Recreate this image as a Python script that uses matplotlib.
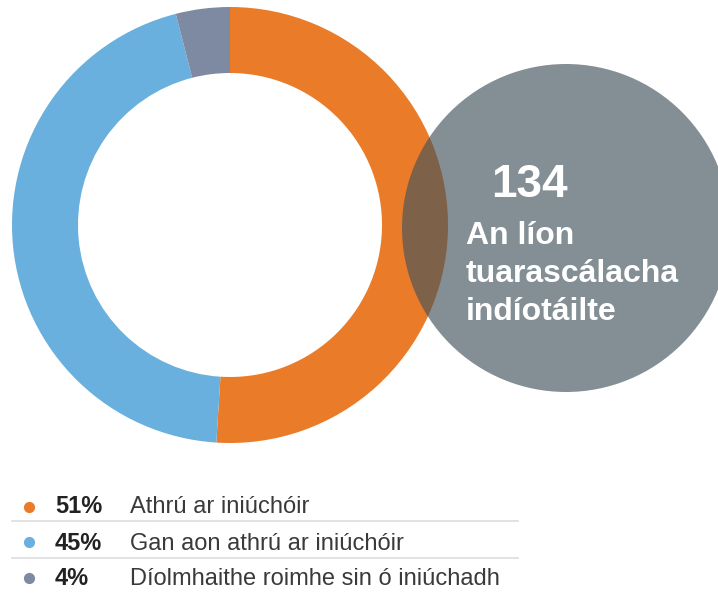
import matplotlib
matplotlib.use("Agg")
import matplotlib.pyplot as plt
from matplotlib.patches import Circle

plt.rcParams["font.family"] = ["Liberation Sans", "DejaVu Sans"]

# data
labels = ["Athrú ar iniúchóir", "Gan aon athrú ar iniúchóir", "Díolmhaithe roimhe sin ó iniúchadh"]
shares = [51, 45, 4]
colors = ["#EA7B28", "#6AB0DE", "#7E8AA2"]
total_reports = 134
caption_lines = ["An líon", "tuarascálacha", "indíotáilte"]

W, H = 718, 594
fig = plt.figure(figsize=(W / 100, H / 100), dpi=100)
ax = fig.add_axes([0, 0, 1, 1])


def Y(y):
    # pixel row from top -> data y
    return H - y


ax.pie(shares, colors=colors, startangle=90, counterclock=False,
       center=(230, Y(225)), radius=218,
       wedgeprops=dict(width=66, linewidth=0))

# grey bubble with the total
ax.add_patch(Circle((566, Y(228)), 164, facecolor="#43535C", alpha=0.65,
                    linewidth=0, zorder=5))
ax.text(491, Y(197), str(total_reports), fontsize=33, fontweight="bold",
        color="white", ha="left", va="baseline", zorder=6)
for k, line in enumerate(caption_lines):
    ax.text(466, Y(244 + 38 * k), line, fontsize=23, fontweight="bold",
            color="white", ha="left", va="baseline", zorder=6)

# legend rows
dot_y = [507, 542, 578]
base_y = [513, 550, 585]
for i, (lab, v, c) in enumerate(zip(labels, shares, colors)):
    ax.scatter([29], [Y(dot_y[i])], s=65, color=c, linewidths=0, zorder=3)
    ax.text(55, Y(base_y[i]), f"{v}%", fontsize=17, fontweight="bold",
            color="#222222", ha="left", va="baseline")
    ax.text(130, Y(base_y[i]), lab, fontsize=17, color="#3a3a3a",
            ha="left", va="baseline")
    if i < len(labels) - 1:
        yl = base_y[i] + 8
        ax.plot([12, 518], [Y(yl), Y(yl)], color="#DDDDDD",
                linewidth=1.2, zorder=1)

ax.set_xlim(0, W)
ax.set_ylim(0, H)
ax.set_aspect("equal")
ax.axis("off")

fig.savefig("out.png", dpi=100)
